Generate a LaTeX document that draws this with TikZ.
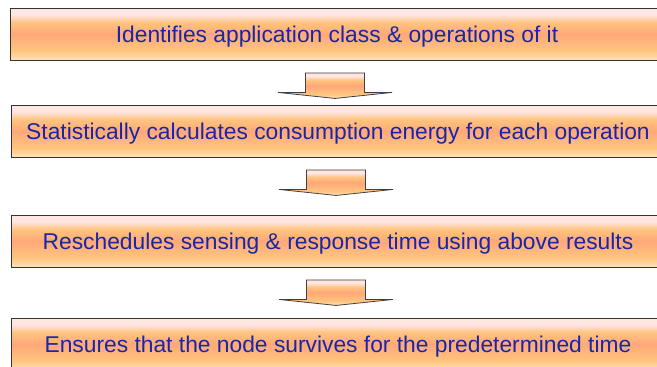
\documentclass[tikz,border=0pt]{standalone}
\usepackage{fontspec}
\setmainfont{Liberation Sans}
\usepackage{xcolor}
\usetikzlibrary{calc}

\definecolor{stagetext}{RGB}{24,40,165}
\definecolor{peachtop}{RGB}{253,232,216}
\definecolor{peachpink}{RGB}{255,230,232}
\definecolor{peachgold}{RGB}{255,196,126}
\definecolor{peachmid}{RGB}{255,168,120}
\definecolor{peachbot}{RGB}{255,226,184}
\pgfdeclareverticalshading{peach}{100bp}{color(0bp)=(peachbot); color(25bp)=(peachbot);
  color(34bp)=(peachgold); color(50bp)=(peachmid); color(61bp)=(peachgold);
  color(69bp)=(peachpink); color(75bp)=(peachtop); color(100bp)=(peachtop)}

\begin{document}
\begin{tikzpicture}[x=1pt, y=-1pt,
    stage/.style={draw=black!80, line width=0.9pt, shading=peach, minimum width=654pt,
      minimum height=52pt, inner sep=0pt, text depth=0pt, text=stagetext,
      font=\fontsize{22.8}{26}\selectfont},
    flow/.style={draw=black!75, line width=0.8pt, shading=peach}]
    \useasboundingbox (0,0) rectangle (657,367);
    \node[stage] (ident) at (337,34) {Identifies application class \& operations of it};
    \node[stage] (stats) at (338,131) {Statistically calculates consumption energy for each operation};
    \node[stage] (resched) at (338,241) {Reschedules sensing \& response time using above results};
    \node[stage] (ensure) at (338,344) {Ensures that the node survives for the predetermined time};
    % block arrows between the stages
    \foreach \a in {ident, stats, resched} {
        \begin{scope}[shift={($(\a.south)+(-2,12.5)$)}]
            \shadedraw[flow] (-29.5,0) -- (29.5,0) -- (29.5,19.5) -- (57,19.5) -- (0,25.5)
                -- (-57,19.5) -- (-29.5,19.5) -- cycle;
        \end{scope}
    }
\end{tikzpicture}
\end{document}
